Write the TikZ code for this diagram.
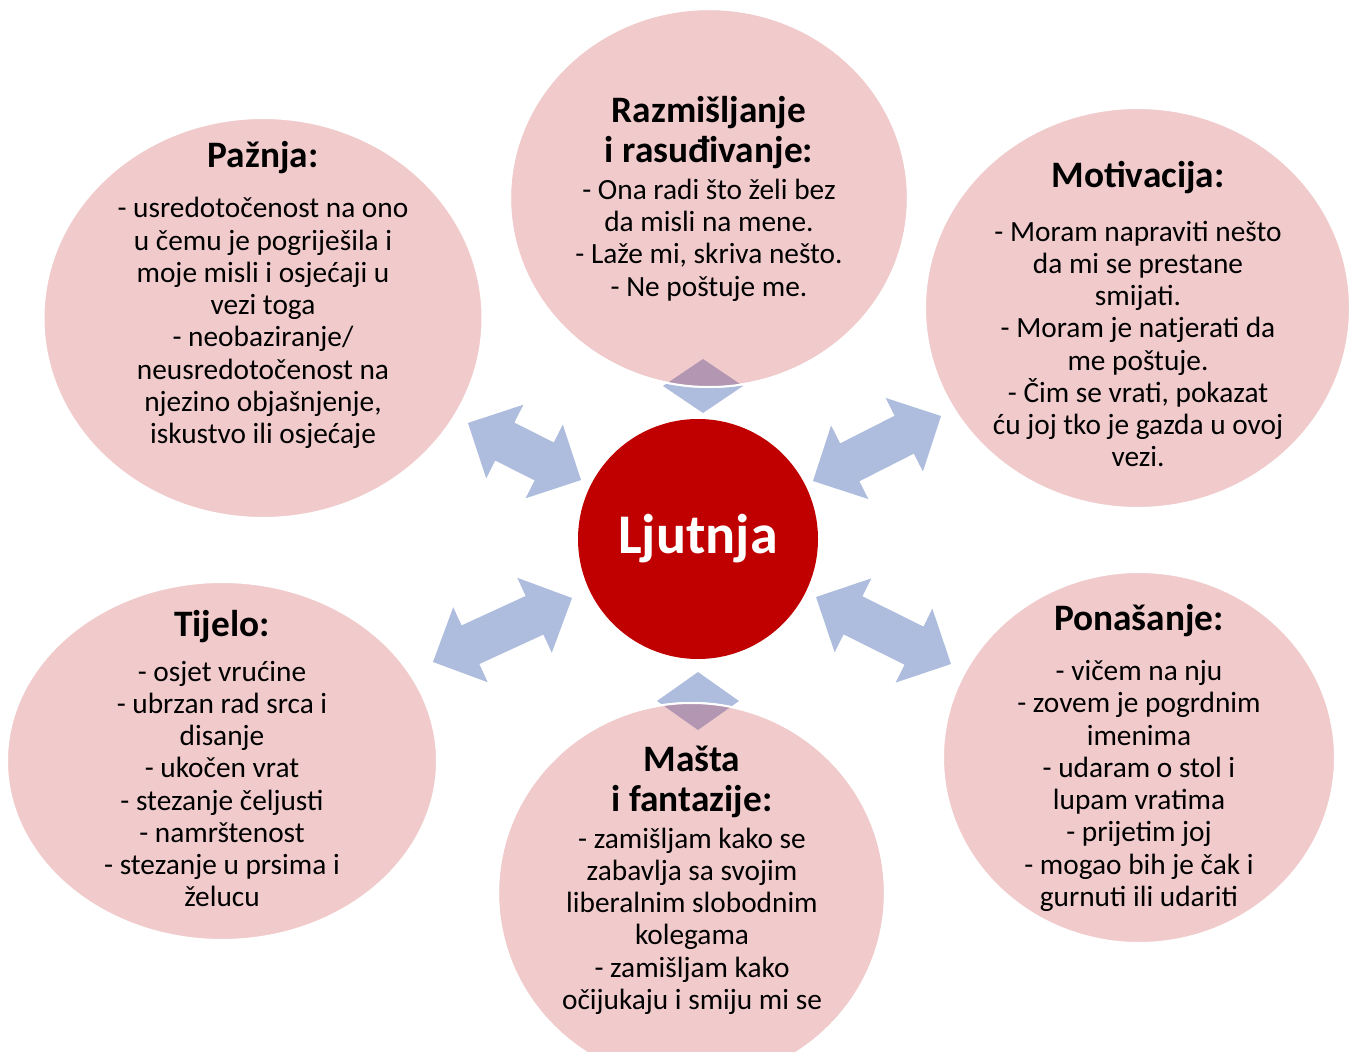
\documentclass[tikz,border=0pt]{standalone}
\usepackage{fontspec}
\setmainfont{Carlito}
\usetikzlibrary{shapes.geometric, shapes.arrows}
\definecolor{bubblepink}{RGB}{241,203,204}
\definecolor{arrowblue}{RGB}{174,188,222}
\definecolor{tipmix}{RGB}{178,150,178}
\definecolor{angerred}{RGB}{192,0,0}
\tikzset{
  bubble/.style={ellipse, fill=bubblepink, draw=white, line width=1.5pt, inner sep=0pt},
  head/.style={font=\fontsize{28}{30}\selectfont\bfseries, align=center, inner sep=0pt},
  body/.style={font=\fontsize{22}{24.2}\selectfont, align=center, inner sep=0pt},
  link/.style={double arrow, fill=arrowblue, double arrow head extend=15pt, inner xsep=0pt, inner ysep=15.75pt},
}

\begin{document}
\begin{tikzpicture}[x=0.75pt,y=0.75pt,yscale=-1,xscale=1]
\useasboundingbox (0,0) rectangle (1357,1052);

%Double Arrows
\node[link, minimum height=95pt, rotate=-26.8] (lnkpaz) at (524.5,451.5) {};
\node[link, minimum height=107.7pt, rotate=26.9] (lnkmot) at (877,448.5) {};
\node[link, minimum height=114.8pt, rotate=24.7] (lnktij) at (502.5,630) {};
\node[link, minimum height=113pt, rotate=-26.4] (lnkpon) at (883.5,630.5) {};
%Up and down tips
\fill[arrowblue] (703,359) -- (743,386) -- (703,413) -- (663,386) -- cycle;
\fill[arrowblue] (698,672) -- (739,701) -- (698,730) -- (657,701) -- cycle;

%Shape: Ellipses
\node[bubble, minimum width=329.25pt, minimum height=300pt] (paznja) at (263,318) {};
\node[bubble, minimum width=298.5pt, minimum height=283.5pt] (razm) at (709,198) {};
\node[bubble, minimum width=318.75pt, minimum height=300pt] (motiv) at (1137.5,308) {};
\node[bubble, minimum width=322.5pt, minimum height=268.5pt] (tijelo) at (222,761) {};
\node[bubble, minimum width=294pt, minimum height=278.25pt] (ponas) at (1139,757.5) {};
\node[bubble, minimum width=290.25pt, minimum height=285pt] (masta) at (691.5,893) {};

%Tips seen through the ellipses
\begin{scope}
\clip (709,198) ellipse (199 and 189);
\fill[tipmix] (703,359) -- (743,386) -- (703,413) -- (663,386) -- cycle;
\end{scope}
\begin{scope}
\clip (691.5,893) ellipse (193.5 and 190);
\fill[tipmix] (698,672) -- (739,701) -- (698,730) -- (657,701) -- cycle;
\end{scope}
\draw[white, line width=1.5pt] (709,198) ellipse (199 and 189);
\draw[white, line width=1.5pt] (691.5,893) ellipse (193.5 and 190);

%Shape: Circle
\node[circle, fill=angerred, minimum size=180pt, inner sep=0pt, text=white, font=\fontsize{42}{48}\selectfont\bfseries] (ljutnja) at (698,539) {Ljutnja};

% Text Node
\node[head] (paznjahd) at (263,158) {Pažnja:};
\node[body] (paznjatxt) at (263,323) {- usredotočenost na ono\\u čemu je pogriješila i\\moje misli i osjećaji u\\vezi toga\\- neobaziranje/\\neusredotočenost na\\njezino objašnjenje,\\iskustvo ili osjećaje};
% Text Node
\node[head] (razmhd) at (709,133) {Razmišljanje\\i rasuđivanje:};
\node[body] (razmtxt) at (709,240) {- Ona radi što želi bez\\da misli na mene.\\- Laže mi, skriva nešto.\\- Ne poštuje me.};
% Text Node
\node[head] (motivhd) at (1138,178) {Motivacija:};
\node[body] (motivtxt) at (1138,344) {- Moram napraviti nešto\\da mi se prestane\\smijati.\\- Moram je natjerati da\\me poštuje.\\- Čim se vrati, pokazat\\ću joj tko je gazda u ovoj\\vezi.};
% Text Node
\node[head] (tijelohd) at (222,627) {Tijelo:};
\node[body] (tijelotxt) at (222,784) {- osjet vrućine\\- ubrzan rad srca i\\disanje\\- ukočen vrat\\- stezanje čeljusti\\- namrštenost\\- stezanje u prsima i\\želucu};
% Text Node
\node[head] (ponashd) at (1139,621) {Ponašanje:};
\node[body] (ponastxt) at (1139,786) {- vičem na nju\\- zovem je pogrdnim\\imenima\\- udaram o stol i\\lupam vratima\\- prijetim joj\\- mogao bih je čak i\\gurnuti ili udariti};
% Text Node
\node[head] (mastahd) at (692,782) {Mašta\\i fantazije:};
\node[body] (mastatxt) at (692,921) {- zamišljam kako se\\zabavlja sa svojim\\liberalnim slobodnim\\kolegama\\- zamišljam kako\\očijukaju i smiju mi se};

\end{tikzpicture}
\end{document}
